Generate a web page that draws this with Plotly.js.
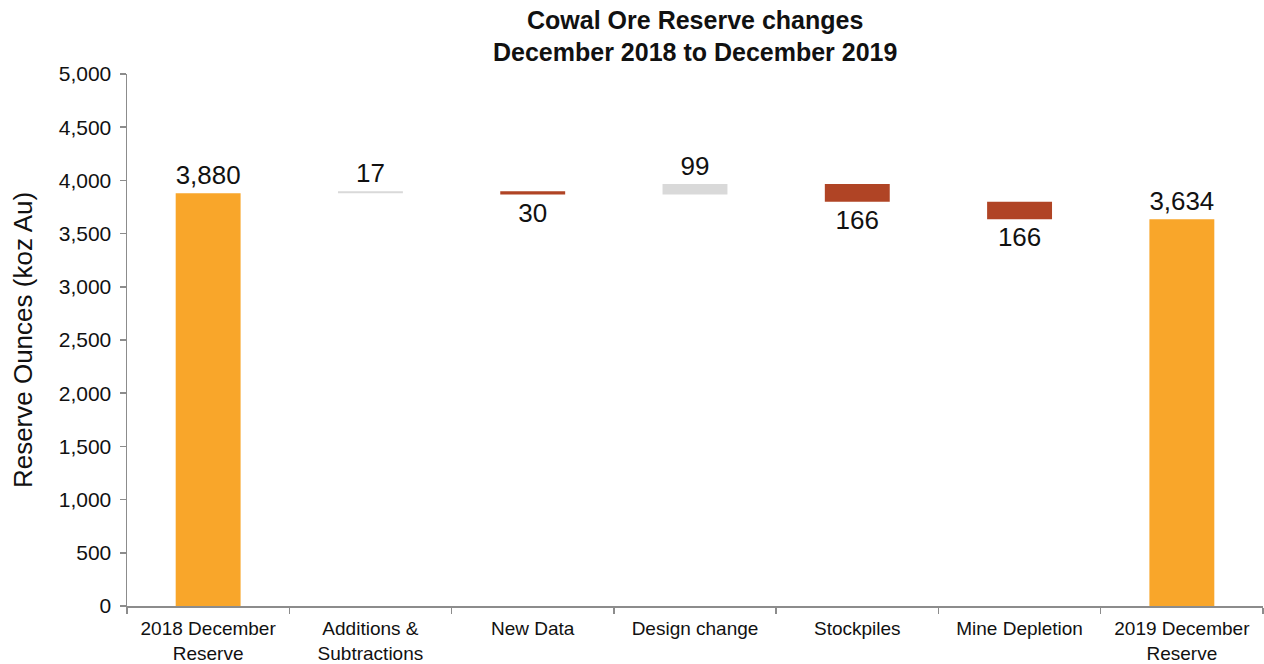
<!DOCTYPE html>
<html>
<head>
<meta charset="utf-8">
<script src="https://cdn.plot.ly/plotly-3.0.1.min.js"></script>
<style>html,body{margin:0;padding:0;background:#fff;}#chart{width:1264px;height:664px;}</style>
</head>
<body>
<div id="chart"></div>
<script>
const categories = ["2018 December<br>Reserve", "Additions &<br>Subtractions", "New Data", "Design change", "Stockpiles", "Mine Depletion", "2019 December<br>Reserve"];
const measures = ["absolute", "relative", "relative", "relative", "relative", "relative", "total"];
const changes = [3880, 17, -30, 99, -166, -166, 0];
const labels = ["3,880", "17", "30", "99", "166", "166", "3,634"];

const trace = {
  type: "waterfall",
  x: categories,
  y: changes,
  measure: measures,
  text: labels,
  textposition: "outside",
  textfont: {family: "Liberation Sans, Arial, sans-serif", size: 26, color: "#111"},
  cliponaxis: false,
  width: 0.4,
  connector: {visible: false},
  increasing: {marker: {color: "#D9D9D9"}},
  decreasing: {marker: {color: "#B04425"}},
  totals: {marker: {color: "#F9A62A"}},
  hoverinfo: "x+y"
};

const layout = {
  width: 1264, height: 664,
  margin: {l: 127, r: 1, t: 74, b: 58},
  paper_bgcolor: "#fff", plot_bgcolor: "#fff",
  font: {family: "Liberation Sans, Arial, sans-serif", color: "#111"},
  showlegend: false,
  title: {
    text: "<b>Cowal Ore Reserve changes<br>December 2018 to December 2019</b>",
    x: 0.55, xref: "container", xanchor: "center",
    y: 0.957, yref: "container", yanchor: "middle",
    font: {size: 25, color: "#111"}
  },
  xaxis: {
    type: "category",
    showline: true, linecolor: "#8c8c8c", linewidth: 1.5,
    ticks: "outside", tickson: "boundaries", ticklen: 6, tickcolor: "#8c8c8c", tickwidth: 1.5,
    ticklabelstandoff: 5,
    tickfont: {size: 19, color: "#111"},
    showgrid: false, zeroline: false
  },
  yaxis: {
    range: [0, 5000], dtick: 500, tickformat: ",d",
    showline: true, linecolor: "#8c8c8c", linewidth: 1.5,
    ticks: "outside", ticklen: 6, tickcolor: "#8c8c8c", tickwidth: 1.5,
    ticklabelstandoff: 4,
    tickfont: {size: 21, color: "#111"},
    showgrid: false, zeroline: false,
    title: {text: "Reserve Ounces (koz Au)", font: {size: 26, color: "#111"}, standoff: 18}
  }
};

Plotly.newPlot("chart", [trace], layout, {displayModeBar: false, staticPlot: true});
</script>
</body>
</html>
